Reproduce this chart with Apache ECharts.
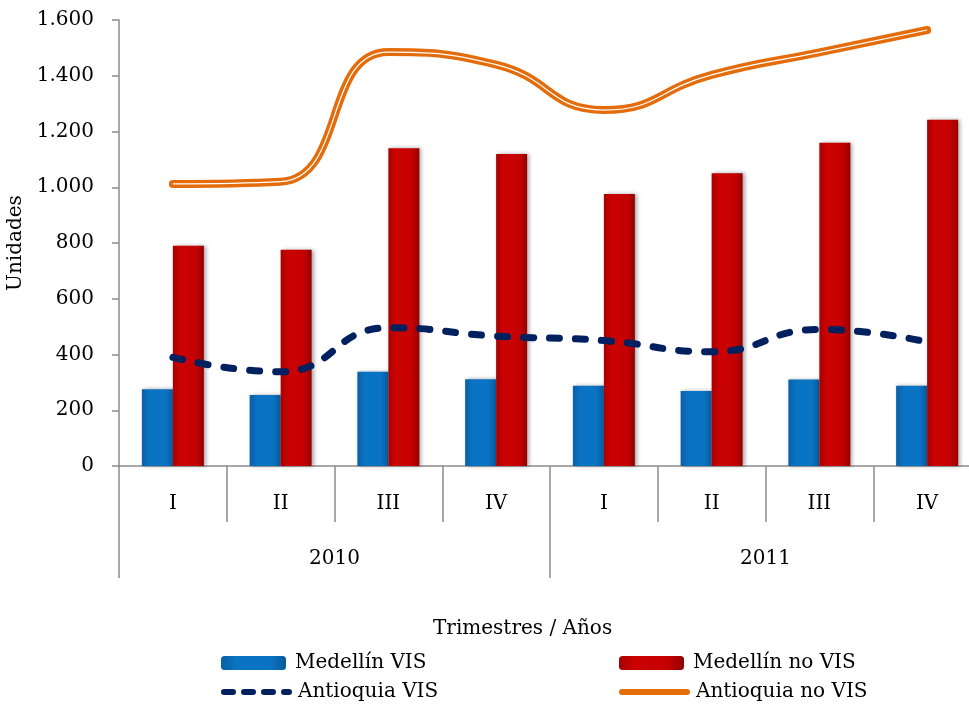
<!DOCTYPE html>
<html>
<head>
<meta charset="utf-8">
<script src="https://cdn.jsdelivr.net/npm/echarts@6/dist/echarts.min.js"></script>
<style>
  html, body { margin: 0; padding: 0; background: #fff; }
  #chart { width: 969px; height: 704px; }
</style>
</head>
<body>
<div id="chart"></div>
<script>
// datos
var trimestres = ['I', 'II', 'III', 'IV', 'I', 'II', 'III', 'IV'];
var anios = ['2010', '2011'];
var medellinVIS = [275, 255, 338, 311, 288, 269, 310, 288];
var medellinNoVIS = [790, 776, 1140, 1119, 976, 1050, 1160, 1242];
var antioquiaVIS = [390, 338, 496, 466, 450, 410, 490, 445];
var antioquiaNoVIS = [1012, 1020, 1485, 1440, 1277, 1403, 1484, 1564];

var fuente = 'DejaVu Serif';
var gris = '#8c8c8c';
var tam = 20;

function miles(v) { // 1600 -> 1.600
  return String(v).replace(/\B(?=(\d{3})+(?!\d))/g, '.');
}

var chart = echarts.init(document.getElementById('chart'), null, {renderer: 'canvas'});

var azul = new echarts.graphic.LinearGradient(0, 0, 1, 0, [
  {offset: 0, color: '#0a5fa6'},
  {offset: 0.25, color: '#0a74c4'},
  {offset: 0.75, color: '#0a74c4'},
  {offset: 1, color: '#08599c'}
]);
var rojo = new echarts.graphic.LinearGradient(0, 0, 1, 0, [
  {offset: 0, color: '#a80000'},
  {offset: 0.25, color: '#cc0202'},
  {offset: 0.75, color: '#c40000'},
  {offset: 1, color: '#940000'}
]);

// una leyenda por elemento, para alinear las dos columnas
function leyenda(nombre, x, y, linea) {
  var item = {name: nombre};
  if (linea) {
    item.itemStyle = {opacity: 0};
    item.lineStyle = linea;
  }
  return {
    left: x,
    top: y,
    itemWidth: 65,
    itemHeight: 14,
    textStyle: {fontFamily: fuente, fontSize: tam, color: '#000', padding: [0, 0, 0, 4]},
    data: [item]
  };
}

var option = {
  animation: false,
  textStyle: {fontFamily: fuente, color: '#000'},
  title: {
    text: 'Trimestres / Años',
    left: 428,
    top: 614,
    textStyle: {fontFamily: fuente, fontWeight: 'normal', fontSize: tam, color: '#000'}
  },
  legend: [
    leyenda('Medellín VIS', 216, 648, null),
    leyenda('Antioquia VIS', 216, 677, {width: 6, type: [9, 11], cap: 'round'}),
    leyenda('Medellín no VIS', 614, 648, null),
    leyenda('Antioquia no VIS', 614, 677, {width: 6, cap: 'round'})
  ],
  // el área del gráfico se sale un poco por la derecha, como en el original
  grid: {left: 119, top: 20, width: 862, height: 446, outerBoundsMode: 'none'},
  xAxis: [{
    type: 'category',
    data: trimestres,
    position: 'bottom',
    axisLine: {lineStyle: {color: gris, width: 1.5}},
    axisTick: {show: true, interval: 0, length: 56, lineStyle: {color: gris, width: 1.5}},
    axisLabel: {interval: 0, margin: 28, fontSize: tam, color: '#000', fontFamily: fuente}
  }, {
    type: 'category',
    data: anios,
    position: 'bottom',
    offset: 56,
    axisLine: {show: false},
    axisTick: {show: true, interval: 0, length: 56, lineStyle: {color: gris, width: 1.5}},
    axisLabel: {interval: 0, margin: 27, fontSize: tam, color: '#000', fontFamily: fuente}
  }],
  yAxis: {
    type: 'value',
    min: 0,
    max: 1600,
    interval: 200,
    name: 'Unidades',
    nameLocation: 'middle',
    nameGap: 86,
    nameTextStyle: {fontSize: tam, color: '#000', fontFamily: fuente},
    axisLine: {show: true, lineStyle: {color: gris, width: 1.5}},
    axisTick: {show: true, length: 7, lineStyle: {color: gris, width: 1.5}},
    splitLine: {show: false},
    axisLabel: {fontSize: tam, margin: 25, color: '#000', fontFamily: fuente, formatter: miles}
  },
  series: [{
    name: 'Medellín VIS',
    type: 'bar',
    data: medellinVIS,
    barWidth: 31,
    barGap: '0%',
    itemStyle: {color: azul, shadowColor: 'rgba(0,0,0,0.35)', shadowBlur: 4, shadowOffsetX: 2}
  }, {
    name: 'Medellín no VIS',
    type: 'bar',
    data: medellinNoVIS,
    barWidth: 31,
    barGap: '0%',
    itemStyle: {color: rojo, shadowColor: 'rgba(0,0,0,0.35)', shadowBlur: 4, shadowOffsetX: 2}
  }, {
    name: 'Antioquia VIS',
    type: 'line',
    data: antioquiaVIS,
    smooth: 0.5,
    symbol: 'none',
    z: 5,
    itemStyle: {color: '#002060'},
    lineStyle: {color: '#002060', width: 7, type: [10, 16], cap: 'round'}
  }, {
    name: 'Antioquia no VIS',
    type: 'line',
    data: antioquiaNoVIS,
    smooth: 0.5,
    symbol: 'none',
    z: 5,
    itemStyle: {color: '#e46c0a'},
    lineStyle: {color: '#e46c0a', width: 8, cap: 'round'}
  }, {
    // línea blanca interior de la doble línea
    name: 'Antioquia no VIS borde',
    type: 'line',
    data: antioquiaNoVIS,
    smooth: 0.5,
    symbol: 'none',
    z: 6,
    silent: true,
    lineStyle: {color: '#ffffff', width: 1.2}
  }]
};

chart.setOption(option);
</script>
</body>
</html>
